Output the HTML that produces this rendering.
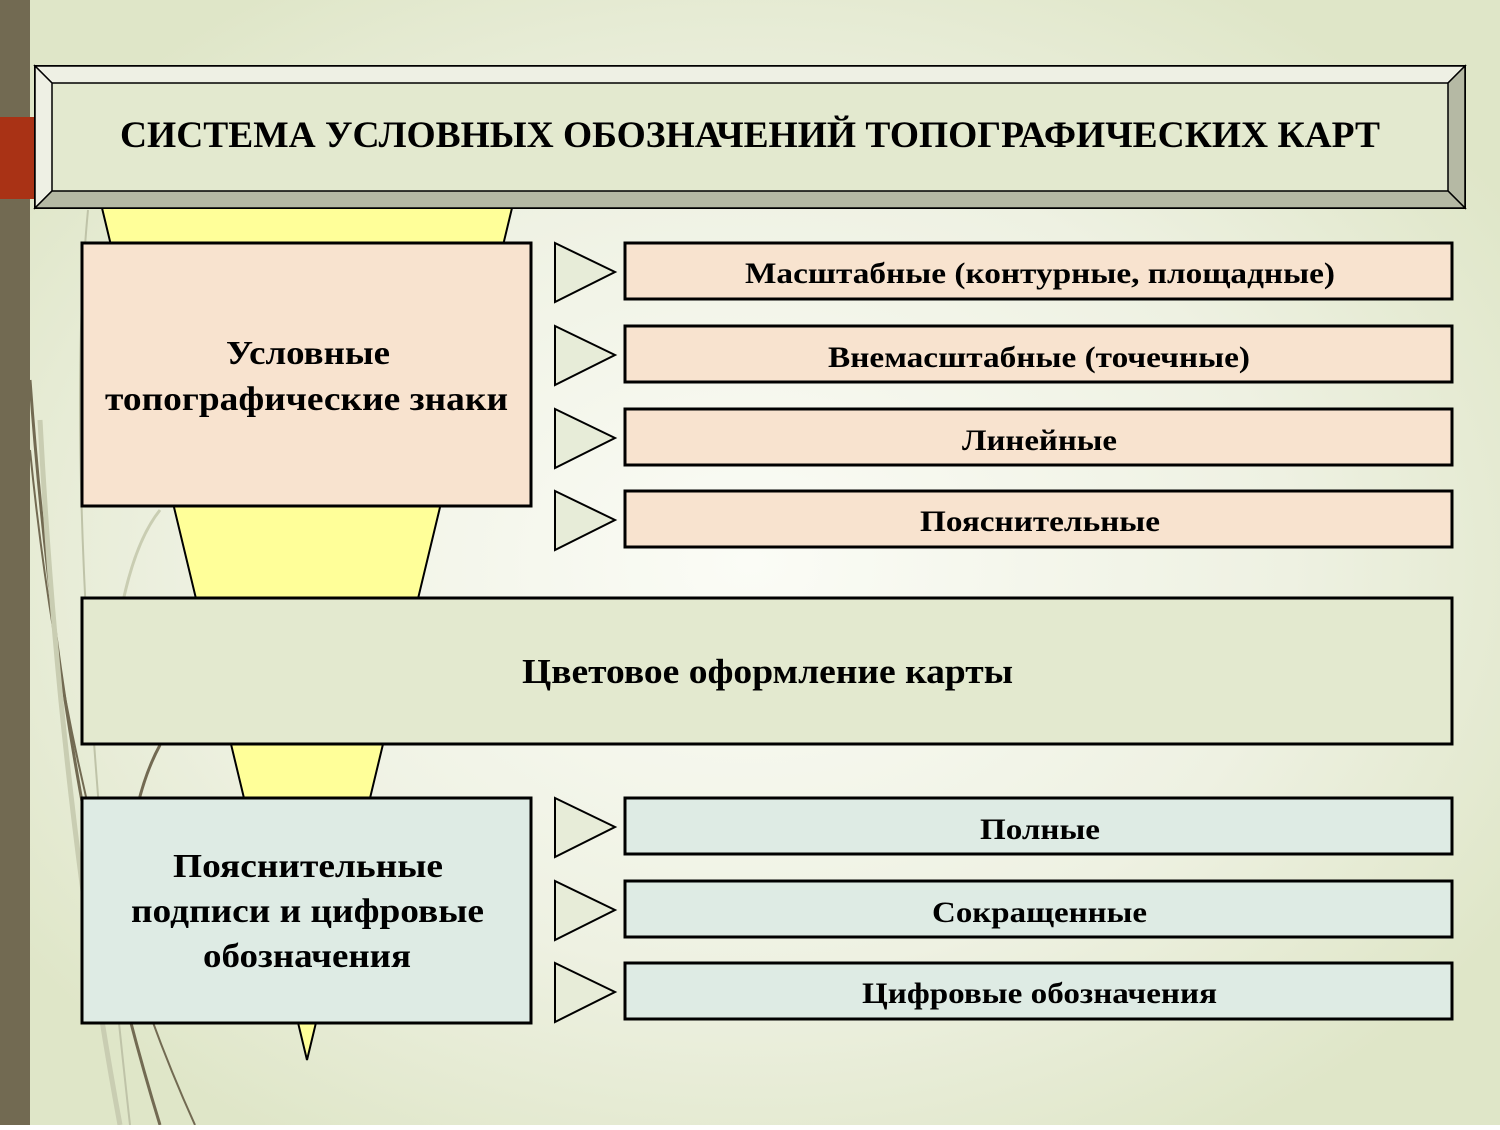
<!DOCTYPE html><html><head><meta charset="utf-8"><style>
body{margin:0;width:1500px;height:1125px;overflow:hidden;font-family:"Liberation Serif",serif;}
</style></head><body>
<svg width="1500" height="1125" xmlns="http://www.w3.org/2000/svg" font-family="Liberation Serif, serif" font-weight="bold">
<defs><radialGradient id="bg" cx="0.5" cy="0.5" r="0.6"><stop offset="0" stop-color="#fbfcf6"/><stop offset="0.6" stop-color="#eef1e2"/><stop offset="1" stop-color="#dfe6c8"/></radialGradient></defs>
<rect width="1500" height="1125" fill="url(#bg)"/>
<g fill="none">
<path d="M88 210 Q60 500 130 1125" stroke="#bfc3a8" stroke-width="2"/>
<path d="M30 380 Q60 800 160 1125" stroke="#726a52" stroke-width="3"/>
<path d="M30 450 Q70 850 195 1125" stroke="#726a52" stroke-width="2"/>
<path d="M40 420 Q60 800 120 1125" stroke="#c9cdb2" stroke-width="5"/>
<path d="M160 745 Q130 800 125 900" stroke="#726a52" stroke-width="3"/>
<path d="M160 510 Q120 560 110 700" stroke="#c9cdb2" stroke-width="3"/>
</g>
<rect x="0" y="0" width="30" height="1125" fill="#726a52"/>
<rect x="0" y="117" width="36" height="82" fill="#a93215"/>
<polygon points="102,208 512,208 307,1060" fill="#ffff99" stroke="#000" stroke-width="2"/>
<rect x="35" y="66" width="1430" height="142" fill="#e3e9cf" stroke="#000" stroke-width="2"/>
<polygon points="35,66 1465,66 1448,83 52,83" fill="#eef0e4" stroke="#000" stroke-width="1.5"/>
<polygon points="35,66 52,83 52,191 35,208" fill="#eef0e4" stroke="#000" stroke-width="1.5"/>
<polygon points="1465,66 1448,83 1448,191 1465,208" fill="#b5b9a4" stroke="#000" stroke-width="1.5"/>
<polygon points="35,208 52,191 1448,191 1465,208" fill="#b5b9a4" stroke="#000" stroke-width="1.5"/>
<text x="120" y="147" font-size="37" textLength="1260" lengthAdjust="spacingAndGlyphs">СИСТЕМА УСЛОВНЫХ ОБОЗНАЧЕНИЙ ТОПОГРАФИЧЕСКИХ КАРТ</text>
<g stroke="#000" stroke-width="3">
<rect x="82" y="243" width="449" height="263" fill="#f8e3cf"/>
<rect x="82" y="598" width="1370" height="146" fill="#e3e9cf"/>
<rect x="82" y="798" width="449" height="225" fill="#deebe4"/>
<g fill="#f8e3cf">
<rect x="625" y="243" width="827" height="56"/><rect x="625" y="326" width="827" height="56"/>
<rect x="625" y="409" width="827" height="56"/><rect x="625" y="491" width="827" height="56"/>
</g>
<g fill="#deebe4">
<rect x="625" y="798" width="827" height="56"/><rect x="625" y="881" width="827" height="56"/>
<rect x="625" y="963" width="827" height="56"/>
</g>
</g>
<g fill="#e7ecd8" stroke="#000" stroke-width="2">
<polygon points="555,243 615,272 555,302"/><polygon points="555,326 615,355 555,385"/>
<polygon points="555,409 615,438 555,468"/><polygon points="555,491 615,520 555,550"/>
<polygon points="555,798 615,827 555,857"/><polygon points="555,881 615,910 555,940"/>
<polygon points="555,963 615,992 555,1022"/>
</g>
<g font-size="34" lengthAdjust="spacingAndGlyphs">
<text x="226" y="364" textLength="164" lengthAdjust="spacingAndGlyphs">Условные</text>
<text x="105" y="410" textLength="403" lengthAdjust="spacingAndGlyphs">топографические знаки</text>
<text x="522" y="683" textLength="491" lengthAdjust="spacingAndGlyphs" font-size="35">Цветовое оформление карты</text>
<text x="173" y="877" textLength="270" lengthAdjust="spacingAndGlyphs">Пояснительные</text>
<text x="131" y="922" textLength="353" lengthAdjust="spacingAndGlyphs">подписи и цифровые</text>
<text x="203" y="967" textLength="208" lengthAdjust="spacingAndGlyphs">обозначения</text>
</g>
<g font-size="30">
<text x="745" y="283" textLength="590" lengthAdjust="spacingAndGlyphs">Масштабные (контурные, площадные)</text>
<text x="828" y="367" textLength="422" lengthAdjust="spacingAndGlyphs">Внемасштабные (точечные)</text>
<text x="962" y="450" textLength="155" lengthAdjust="spacingAndGlyphs">Линейные</text>
<text x="920" y="531" textLength="240" lengthAdjust="spacingAndGlyphs">Пояснительные</text>
<text x="980" y="839" textLength="120" lengthAdjust="spacingAndGlyphs">Полные</text>
<text x="932" y="922" textLength="215" lengthAdjust="spacingAndGlyphs">Сокращенные</text>
<text x="862" y="1003" textLength="355" lengthAdjust="spacingAndGlyphs">Цифровые обозначения</text>
</g>
</svg>
</body></html>
